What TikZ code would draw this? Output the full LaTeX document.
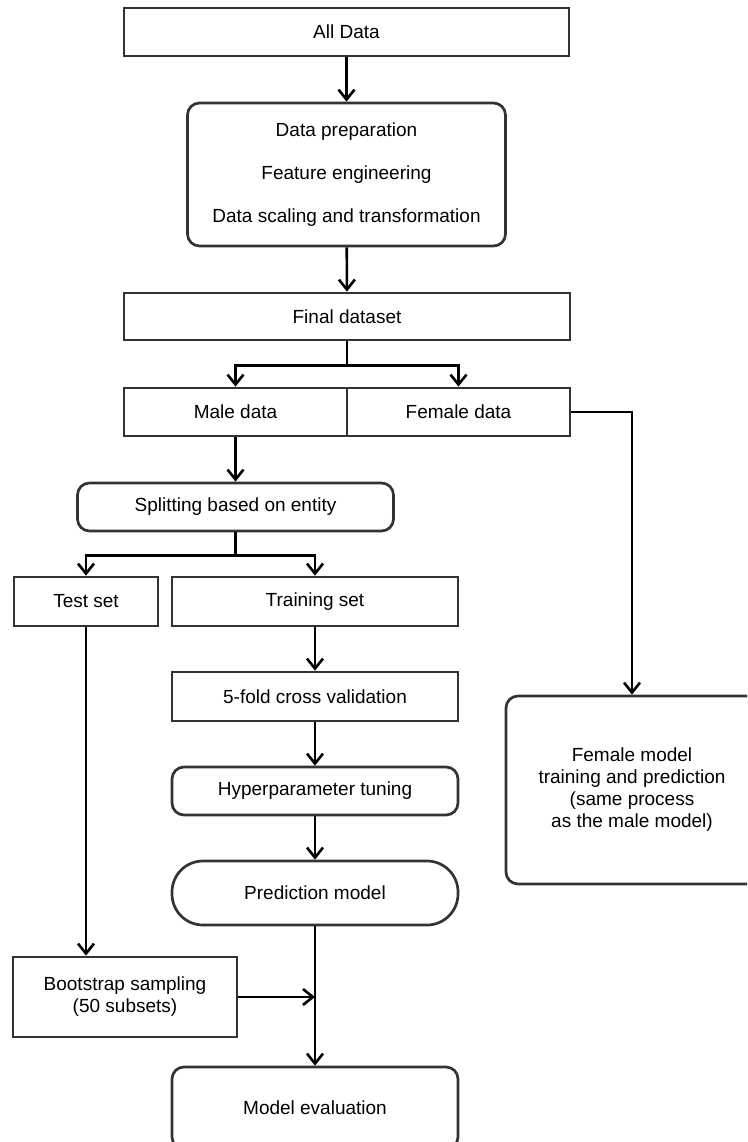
\documentclass[tikz,border=0pt]{standalone}
\usepackage{fontspec}
\setmainfont{Liberation Sans}
\usepackage{tikz}
\usetikzlibrary{arrows.meta, positioning, calc}
\definecolor{boxline}{HTML}{333333}
\tikzstyle{arrow}=[-{Straight Barb[length=10pt,width=16pt]}, line width=2.6pt, color=black]

\begin{document}
\begin{tikzpicture}[x=1pt, y=-1pt,
  stage/.style={rectangle, draw=boxline, line width=2.7pt, fill=white,
                align=center, inner sep=2pt,
                font=\fontsize{19}{22}\selectfont},
  roundstage/.style={stage, rounded corners=12pt},
  pill/.style={stage, rounded corners=31pt}
]
\useasboundingbox (0,0) rectangle (747,1142);
\clip (0,0) rectangle (747,1142);

% top part
\node[stage, minimum width=445pt, minimum height=48pt] (all) at (346.5,32) {All Data};
\node[roundstage, minimum width=318pt, minimum height=143pt] (prep) at (346.5,174.5)
  {Data preparation\\[21pt]Feature engineering\\[21pt]Data scaling and transformation};
\node[stage, minimum width=446pt, minimum height=47pt] (final) at (347,316.5) {Final dataset};
\node[stage, minimum width=223pt, minimum height=48pt] (male) at (235.5,412) {Male data};
\node[stage, minimum width=223pt, minimum height=48pt] (female) at (458.5,412) {Female data};

% male branch
\node[roundstage, minimum width=316pt, minimum height=48pt] (split) at (235.5,507) {Splitting based on entity};
\node[stage, minimum width=144pt, minimum height=49pt] (test) at (86,601.5) {Test set};
\node[stage, minimum width=286pt, minimum height=49pt] (train) at (315,601.5) {Training set};
\node[stage, minimum width=286pt, minimum height=49pt] (cv) at (315,696.5) {5-fold cross validation};
\node[roundstage, minimum width=286pt, minimum height=48pt] (hyper) at (315,791) {Hyperparameter tuning};
\node[pill, minimum width=286pt, minimum height=64pt] (pred) at (315,893) {Prediction model};
\node[stage, minimum width=224pt, minimum height=80pt] (boot) at (125,997)
  {Bootstrap sampling\\(50 subsets)};
\node[roundstage, minimum width=286pt, minimum height=82pt] (eval) at (315,1108) {Model evaluation};

% female branch
\node[roundstage, minimum width=252pt, minimum height=188pt] (fmodel) at (632,790)
  {Female model\\training and prediction\\(same process\\as the male model)};

\coordinate (join) at (pred.south |- boot.east);

\draw[arrow] (all) -- (prep);
\draw[arrow] (prep) -- (final);
\draw[arrow] (final.south) -- ++(0,24) -| (male.north);
\draw[arrow] (final.south) -- ++(0,24) -| (female.north);
\draw[arrow] (female.east) -| (fmodel.north);
\draw[arrow] (male.south) -- (split.north);
\draw[arrow] (split.south) -- ++(0,23) -| (test.north);
\draw[arrow] (split.south) -- ++(0,23) -| (train.north);
\draw[arrow] (train) -- (cv);
\draw[arrow] (cv) -- (hyper);
\draw[arrow] (hyper) -- (pred);
\draw[arrow] (test.south) -- (test.south |- boot.north);
\draw[arrow] (pred) -- (eval);
\draw[arrow] (boot) -- (join);
\end{tikzpicture}
\end{document}
